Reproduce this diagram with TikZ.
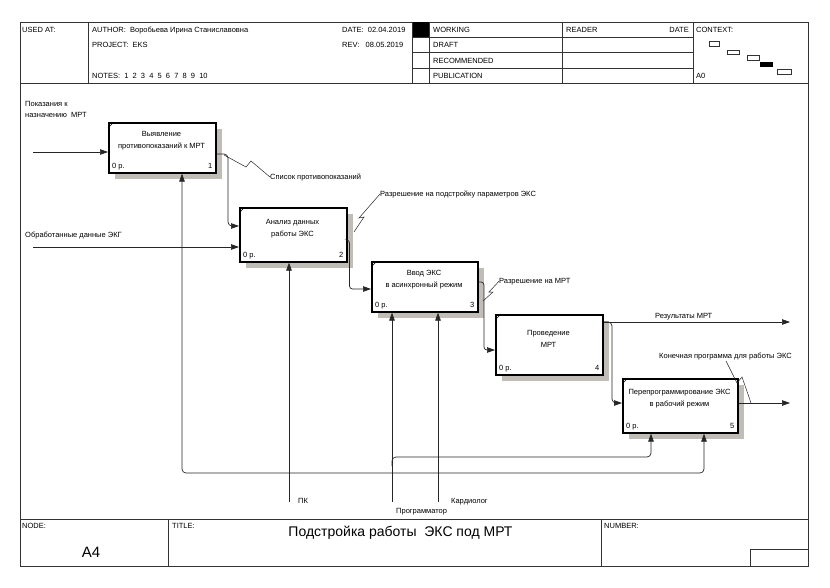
\documentclass[tikz,border=0pt]{standalone}
\usepackage{fontspec}
\setmainfont{Liberation Sans}
\usetikzlibrary{arrows.meta}
\definecolor{shadowc}{RGB}{192,188,182}
\begin{document}
\begin{tikzpicture}[x=1pt,y=-1pt,
  txt/.style={font=\fontsize{7.5}{9}\selectfont, inner sep=0pt, anchor=base west},
  txte/.style={txt, anchor=base east},
  boxtxt/.style={font=\fontsize{7.5}{12}\selectfont, inner sep=0pt, anchor=north, align=center},
  box/.style={draw=black, line width=1.6pt, fill=white, anchor=north west, inner sep=0pt},
  conn/.style={line width=0.7pt, draw=black!85},
  arr/.style={conn, -{Triangle[length=8pt,width=5.5pt]}},
  squig/.style={line width=0.5pt, draw=black!85},
  frm/.style={line width=0.8pt, draw=black!80},
  ctx/.style={line width=0.6pt, draw=black!80}
]
\useasboundingbox (0,0) rectangle (830,587);
\fill[white] (0,0) rectangle (830,587);

% ---------- frame ----------
\draw[frm] (20,22) rectangle (808,566);
\draw[frm] (20,83) -- (808,83);
\draw[frm] (20,519) -- (808,519);
\draw[frm] (88,22) -- (88,83);
\draw[frm] (412.5,22) -- (412.5,83);
\draw[frm] (429,22) -- (429,83);
\draw[frm] (562,22) -- (562,83);
\draw[frm] (693,22) -- (693,83);
\draw[frm] (412.5,37) -- (693,37);
\draw[frm] (412.5,52) -- (693,52);
\draw[frm] (412.5,68) -- (693,68);
\fill[black] (412.5,22) rectangle (429,37);
\draw[frm] (168,519) -- (168,566);
\draw[frm] (601,519) -- (601,566);
\draw[frm] (750,549) rectangle (808,566);

% header texts
\node[txt] (usedat) at (22,32) {USED AT:};
\node[txt] (author) at (92,32) {AUTHOR:\ \ Воробьева Ирина Станиславовна};
\node[txt] (date) at (342,32) {DATE:\ \ 02.04.2019};
\node[txt] (project) at (92,47) {PROJECT:\ \ EKS};
\node[txt] (rev) at (342,47) {REV:\ \ \ 08.05.2019};
\node[txt] (notes) at (92,78) {NOTES:\ \ 1\ \ 2\ \ 3\ \ 4\ \ 5\ \ 6\ \ 7\ \ 8\ \ 9\ \ 10};
\node[txt] (working) at (433,32) {WORKING};
\node[txt] (draft) at (433,47) {DRAFT};
\node[txt] (recom) at (433,63) {RECOMMENDED};
\node[txt] (publ) at (433,78) {PUBLICATION};
\node[txt] (reader) at (566,32) {READER};
\node[txte] (rdate) at (689,32) {DATE};
\node[txt] (context) at (696,32) {CONTEXT:};
\node[txt] (a0) at (696,78) {A0};
% context boxes
\draw[ctx] (709,41) rectangle (719,46);
\draw[ctx] (727,50) rectangle (739,54);
\draw[ctx] (747,55) rectangle (759,60);
\fill[black] (760,62) rectangle (773,67);
\draw[ctx] (777,69) rectangle (791,74);

% footer texts
\node[txt] (nodel) at (22,528) {NODE:};
\node[txt] (titlel) at (172,528) {TITLE:};
\node[txt] (numl) at (604,528) {NUMBER:};
\node[font=\fontsize{14}{16}\selectfont, inner sep=0pt, anchor=base] (title) at (400.5,536) {Подстройка работы\ \ ЭКС под МРТ};
\node[font=\fontsize{15}{17}\selectfont, inner sep=0pt, anchor=base] (a4) at (91,557) {A4};

% ---------- shadows ----------
\fill[shadowc] (115,129) rectangle (222,179);
\fill[shadowc] (246,214) rectangle (353,268);
\fill[shadowc] (378,268) rectangle (484,318);
\fill[shadowc] (502,321) rectangle (609,381);
\fill[shadowc] (629,385) rectangle (744,439);

% ---------- boxes ----------
\node[box, minimum width=107pt, minimum height=50pt] (b1) at (108,122) {};
\node[box, minimum width=107pt, minimum height=54pt] (b2) at (239,207) {};
\node[box, minimum width=106pt, minimum height=50pt] (b3) at (371,261) {};
\node[box, minimum width=107pt, minimum height=60pt] (b4) at (495,314) {};
\node[box, minimum width=115pt, minimum height=54pt] (b5) at (622,378) {};

\foreach \b in {b1,b2,b3,b4,b5}{
  \draw[line width=0.6pt] ([yshift=-6pt]\b.north west) -- ([xshift=6pt]\b.north west);
  \node[txt] at ([xshift=4pt,yshift=5pt]\b.south west) {0 р.};
}
\node[txte] (n1) at ([xshift=-4pt,yshift=5pt]b1.south east) {1};
\node[txte] (n2) at ([xshift=-4pt,yshift=5pt]b2.south east) {2};
\node[txte] (n3) at ([xshift=-4pt,yshift=5pt]b3.south east) {3};
\node[txte] (n4) at ([xshift=-4pt,yshift=5pt]b4.south east) {4};
\node[txte] (n5) at ([xshift=-4pt,yshift=5pt]b5.south east) {5};

\node[boxtxt] (b1t) at (161.5,131) {Выявление\\противопоказаний к МРТ};
\node[boxtxt] (b2t) at (292.5,219.5) {Анализ данных\\работы ЭКС};
\node[boxtxt] (b3t) at (424,270) {Ввод ЭКС\\в асинхронный режим};
\node[boxtxt] (b4t) at (548.5,330) {Проведение\\МРТ};
\node[boxtxt] (b5t) at (679.5,389) {Перепрограммирование ЭКС\\в рабочий режим};

% ---------- coordinates ----------
\coordinate (in1) at (33,152);
\coordinate (in2) at (33,247);
\coordinate (o4) at (790,322);
\coordinate (o5) at (790,403);
\coordinate (pk) at (289,502);
\coordinate (prog) at (392,502);
\coordinate (card) at (438,502);

% ---------- connectors ----------
\draw[arr] (in1) -- (in1 -| b1.west);
\draw[arr] (in2) -- (in2 -| b2.west);
\draw[arr, rounded corners=4pt] (b1.east |- 0,154) -| (228,226) -- (b2.west |- 0,226);
\draw[arr, rounded corners=3pt] (b2.east |- 0,240) -| (349.5,289) -- (b3.west |- 0,289);
\draw[arr, rounded corners=3pt] (b3.east |- 0,282) -| (484,350) -- (b4.west |- 0,350);
\draw[arr] (b4.east |- 0,322) -- (o4);
\draw[arr, rounded corners=4pt] (b4.east |- 0,322) -| (612,403) -- (b5.west |- 0,403);
\draw[arr] (b5.east |- 0,403) -- (o5);

\draw[arr] (pk) -- (pk |- b2.south);
\draw[arr] (prog) -- (prog |- b3.south);
\draw[arr] (card) -- (card |- b3.south);
\draw[arr, rounded corners=4pt] (438,473) -| (182,0 |- b1.south);
\draw[arr, rounded corners=4pt] (438,473) -| (704,0 |- b5.south);
\draw[arr, rounded corners=4pt] (392,466) |- (651,457) -- (651,0 |- b5.south);

% ---------- labels ----------
\node[txt] (l1a) at (25,106) {Показания к};
\node[txt] (l1b) at (25,117) {назначению\ \ МРТ};
\node[txt] (l2) at (25,237) {Обработанные данные ЭКГ};
\node[txt] (l3) at (270,179) {Список противопоказаний};
\node[txt] (l4) at (380,196) {Разрешение на подстройку параметров ЭКС};
\node[txt] (l5) at (499,283) {Разрешение на МРТ};
\node[txt] (l6) at (655,318) {Результаты МРТ};
\node[txt] (l7) at (659,358) {Конечная программа для работы ЭКС};
\node[txt] (lpk) at (298,503) {ПК};
\node[txt] (lprog) at (396,513) {Программатор};
\node[txt] (lcard) at (451,503) {Кардиолог};

% squiggles
\draw[squig] (224,155) -- (246,167) -- (251,161) -- (l3.west);
\draw[squig] (354,232) -- (364,217) -- (359,218) -- (l4.west);
\draw[squig] (483,301) -- (493,292) -- (489,292) -- (l5.west);
\draw[squig] (726,361) -- (737,383) -- (742,377) -- (751,403);
\end{tikzpicture}
\end{document}
